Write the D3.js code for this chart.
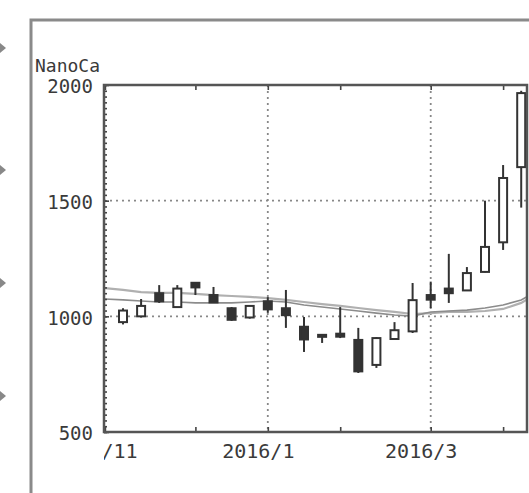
<!DOCTYPE html>
<html>
<head>
<meta charset="utf-8">
<script src="https://cdn.jsdelivr.net/npm/d3@7"></script>
<style>
  body { margin: 0; background: #fff; }
  text { font-family: "DejaVu Sans Mono", monospace; fill: #3a3a3a; }
</style>
</head>
<body>
<div id="app"></div>
<script>
// weekly candles, index 0 = week of 2015-11-09
const weeks = ["2015-11-09","2015-11-16","2015-11-23","2015-11-30","2015-12-07","2015-12-14",
               "2015-12-21","2015-12-28","2016-01-04","2016-01-11","2016-01-18","2016-01-25",
               "2016-02-01","2016-02-08","2016-02-15","2016-02-22","2016-02-29","2016-03-07",
               "2016-03-14","2016-03-21","2016-03-28","2016-04-04","2016-04-11"];
const open  = [975, 1000, 1100, 1040, 1145, 1092, 1035, 995, 1065, 1035, 955, 920, 925, 898, 790, 902, 935, 1092, 1120, 1112, 1192, 1320, 1645];
const high  = [1035, 1075, 1135, 1135, 1148, 1127, 1040, 1048, 1083, 1114, 997, 922, 1040, 950, 910, 975, 1144, 1150, 1270, 1213, 1500, 1654, 1975];
const low   = [965, 995, 1058, 1038, 1092, 1058, 980, 990, 1015, 950, 846, 885, 906, 755, 777, 900, 928, 1036, 1058, 1110, 1190, 1287, 1470];
const close = [1025, 1045, 1065, 1120, 1125, 1060, 985, 1045, 1030, 1005, 900, 912, 912, 762, 906, 940, 1070, 1072, 1100, 1187, 1300, 1598, 1965];

// moving averages, index -1 .. 23
const maIndex = [-1,0,1,2,3,4,5,6,7,8,9,10,11,12,13,14,15,16,17,18,19,20,21,22,23];
const maLong  = [1122,1114,1105,1101,1101,1097,1092,1088,1084,1079,1071,1062,1053,1045,1036,1027,1019,1010,1014,1019,1019,1023,1032,1058,1105];
const maShort = [1075,1071,1066,1062,1062,1058,1058,1058,1062,1066,1062,1049,1040,1032,1023,1014,1006,1001,1019,1023,1027,1036,1049,1071,1114];

// month ticks (candle index of first week in month)
const monthTicks  = [-1, 4, 8, 12, 17, 21];
const monthLabels = ["2015/11", "", "2016/1", "", "2016/3", ""];
const gridX = [8, 17];
const yTicks = [500, 1000, 1500, 2000];
const gridY = [1000, 1500];

const W = 529, H = 493;
const L = 104, T = 85, R = 527, B = 432;

const svg = d3.select("#app").append("svg")
  .attr("width", W).attr("height", H);

// outer frame
svg.append("path")
  .attr("d", `M31,${H} L31,20 L${W},20`)
  .attr("fill", "none").attr("stroke", "#8a8a8a").attr("stroke-width", 3);

// arrows at left edge
[48, 170, 283, 396].forEach(function (yy) {
  svg.append("path")
    .attr("d", `M0,${yy - 5} L6,${yy} L0,${yy + 5}Z`)
    .attr("fill", "#888");
});

const x = d3.scaleLinear().domain([-1.05, 22.32]).range([L, R]);
const y = d3.scaleLinear().domain([500, 2000]).range([B, T]);

svg.append("clipPath").attr("id", "plot")
  .append("rect").attr("x", L).attr("y", T).attr("width", R - L).attr("height", B - T);
svg.append("clipPath").attr("id", "xlab")
  .append("rect").attr("x", L).attr("y", B - 10).attr("width", R - L).attr("height", 70);

// grid
svg.selectAll(".gx").data(gridX).enter().append("line")
  .attr("x1", d => x(d)).attr("x2", d => x(d))
  .attr("y1", T).attr("y2", B)
  .attr("stroke", "#888").attr("stroke-width", 1.8).attr("stroke-dasharray", "2,4");
svg.selectAll(".gy").data(gridY).enter().append("line")
  .attr("x1", L).attr("x2", R)
  .attr("y1", d => y(d)).attr("y2", d => y(d))
  .attr("stroke", "#888").attr("stroke-width", 1.8).attr("stroke-dasharray", "2,4");

// moving averages
const plot = svg.append("g").attr("clip-path", "url(#plot)");
const line = d3.line().x(d => x(d[0])).y(d => y(d[1]));
plot.append("path")
  .attr("d", line(maIndex.map((d, i) => [d, maLong[i]])))
  .attr("fill", "none").attr("stroke", "#b0b0b0").attr("stroke-width", 2.2);
plot.append("path")
  .attr("d", line(maIndex.map((d, i) => [d, maShort[i]])))
  .attr("fill", "none").attr("stroke", "#8c8c8c").attr("stroke-width", 1.6);

// candles
const candles = plot.selectAll(".c").data(weeks).enter().append("g");
candles.append("line")
  .attr("x1", (d, i) => x(i)).attr("x2", (d, i) => x(i))
  .attr("y1", (d, i) => y(high[i])).attr("y2", (d, i) => y(low[i]))
  .attr("stroke", "#333").attr("stroke-width", 2);
candles.append("rect")
  .attr("x", (d, i) => x(i) - 4)
  .attr("y", (d, i) => y(Math.max(open[i], close[i])))
  .attr("width", 8)
  .attr("height", (d, i) => Math.max(2, Math.abs(y(open[i]) - y(close[i]))))
  .attr("fill", (d, i) => close[i] >= open[i] ? "#fff" : "#333")
  .attr("stroke", "#333").attr("stroke-width", 2);

// axes
const axisColor = "#444";
const axBottom = svg.append("g").attr("clip-path", "url(#xlab)")
  .append("g").attr("transform", `translate(0,${B})`)
  .call(d3.axisBottom(x).tickValues(monthTicks).tickSizeInner(-5).tickSizeOuter(0)
    .tickFormat((d, i) => monthLabels[i]).tickPadding(12));
axBottom.selectAll("text").attr("dx", -10).attr("font-size", 20)
  .style("font-family", "DejaVu Sans Mono, monospace").attr("fill", "#3a3a3a");

const axTop = svg.append("g").attr("transform", `translate(0,${T})`)
  .call(d3.axisTop(x).tickValues(monthTicks).tickSizeInner(-5).tickSizeOuter(0).tickFormat(""));

const axMinor = svg.append("g").attr("transform", `translate(${L},0)`)
  .call(d3.axisLeft(y).tickValues(d3.range(500, 2001, 25)).tickSizeInner(-3).tickSizeOuter(0).tickFormat(""));
const axLeft = svg.append("g").attr("transform", `translate(${L},0)`)
  .call(d3.axisLeft(y).tickValues(yTicks).tickSizeInner(-5).tickSizeOuter(0).tickPadding(11)
    .tickFormat(d3.format("d")));
axLeft.selectAll("text").attr("font-size", 19).attr("dy", "0.42em")
  .style("font-family", "DejaVu Sans Mono, monospace").attr("fill", "#3a3a3a");

[axBottom, axTop, axMinor, axLeft].forEach(function (g) {
  g.selectAll(".domain").remove();
  g.selectAll(".tick line").attr("stroke", axisColor).attr("stroke-width", 1.6);
});

// plot frame
svg.append("rect")
  .attr("x", L).attr("y", T).attr("width", R - L).attr("height", B - T)
  .attr("fill", "none").attr("stroke", "#555").attr("stroke-width", 2.5);

svg.append("text")
  .attr("x", 35).attr("y", 72)
  .attr("font-size", 18)
  .text("NanoCa");
</script>
</body>
</html>
